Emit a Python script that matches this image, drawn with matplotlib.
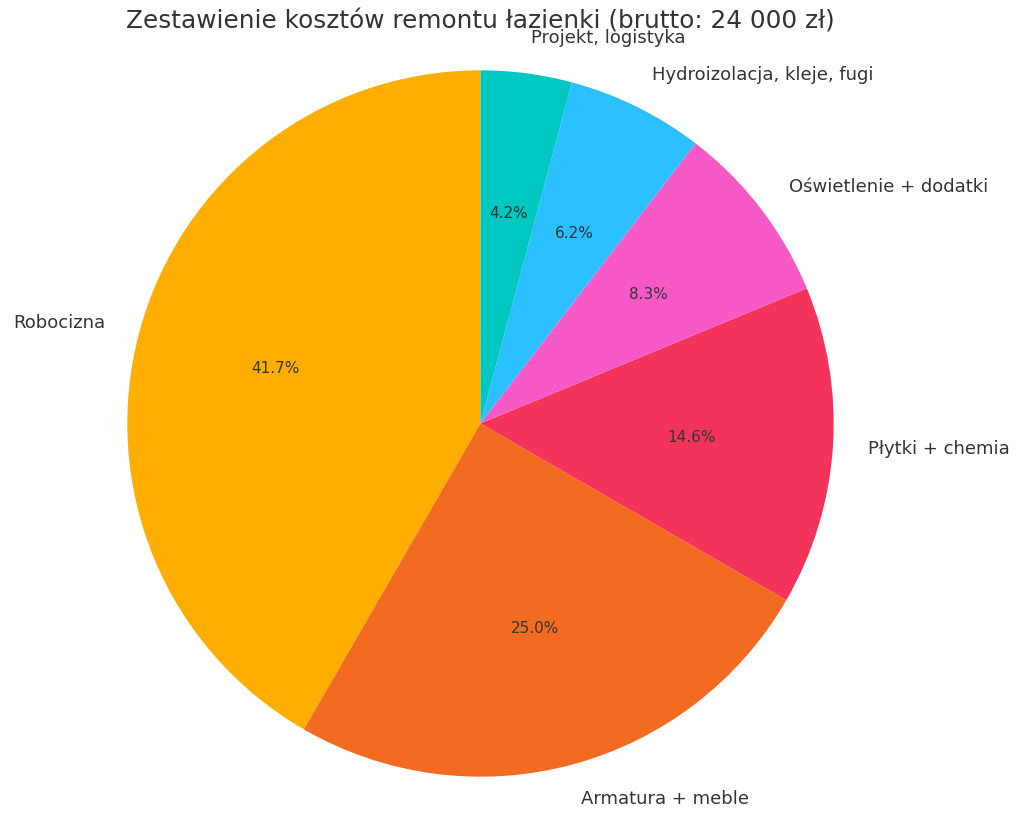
import matplotlib
matplotlib.use("Agg")
import matplotlib.pyplot as plt

# koszty w zł (brutto, razem 24 000)
categories = ["Robocizna", "Armatura + meble", "Płytki + chemia",
              "Oświetlenie + dodatki", "Hydroizolacja, kleje, fugi",
              "Projekt, logistyka"]
costs = [10000, 6000, 3500, 2000, 1500, 1000]
colors = ["#FFAE00", "#F26B21", "#F4335A", "#F75AC6", "#2BBFFF", "#00C8C0"]

fig = plt.figure(figsize=(10.24, 8.21), dpi=100)
ax = fig.add_axes([92 / 1024, 9 / 821, 777 / 1024, 777 / 821])

wedges, texts, autotexts = ax.pie(costs, labels=categories, colors=colors,
                                  autopct="%1.1f%%", startangle=90,
                                  textprops={"color": "#333333", "fontsize": 13})
for t in autotexts:
    t.set_fontsize(11)
ax.set_xlim(-1.1, 1.1)
ax.set_ylim(-1.1, 1.1)
ax.set_aspect("equal")

fig.text(480 / 1024, 1 - 22 / 821, "Zestawienie kosztów remontu łazienki (brutto: 24 000 zł)",
         ha="center", va="center", fontsize=17.8, color="#333333")

fig.savefig("out.png", dpi=100)
